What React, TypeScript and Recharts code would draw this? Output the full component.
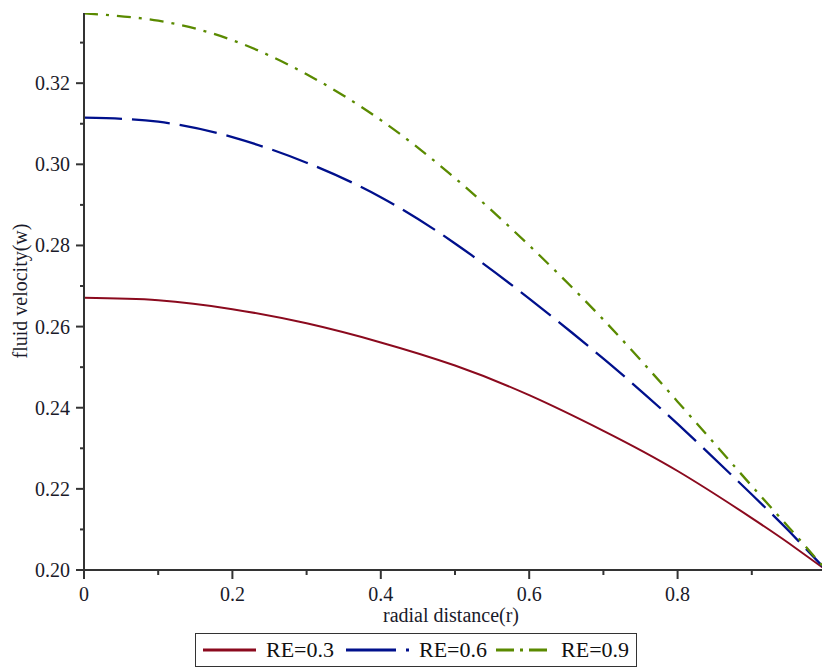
import React from 'react';
import { LineChart, Line, XAxis, YAxis, Legend } from 'recharts';

const rValues = [0, 0.1, 0.2, 0.3, 0.4, 0.5, 0.6, 0.7, 0.8, 0.9, 0.95, 1];
const re03 = [0.2671, 0.2665, 0.2643, 0.2608, 0.2561, 0.2504, 0.2431, 0.2343, 0.2244, 0.2128, 0.2066, 0.2];
const re06 = [0.3115, 0.3105, 0.3067, 0.3004, 0.2919, 0.2805, 0.2669, 0.2521, 0.236, 0.2186, 0.2096, 0.2];
const re09 = [0.3372, 0.3354, 0.3306, 0.3222, 0.3109, 0.2966, 0.28, 0.2617, 0.2415, 0.2207, 0.2105, 0.2];

const seriesNames = ['RE=0.3', 'RE=0.6', 'RE=0.9'];

const xTicks = [0, 0.1, 0.2, 0.3, 0.4, 0.5, 0.6, 0.7, 0.8, 0.9, 1];
const xMajor = [0, 0.2, 0.4, 0.6, 0.8, 1];
const xTickLabels = ['0', '0.2', '0.4', '0.6', '0.8', '1'];

const yTicks = [0.2, 0.21, 0.22, 0.23, 0.24, 0.25, 0.26, 0.27, 0.28, 0.29, 0.3, 0.31, 0.32, 0.33];
const yMajor = [0.2, 0.22, 0.24, 0.26, 0.28, 0.3, 0.32];
const yTickLabels = ['0.20', '0.22', '0.24', '0.26', '0.28', '0.30', '0.32'];

const data = rValues.map((r, i) => ({ r, a: re03[i], b: re06[i], c: re09[i] }));

const FONT = "'Liberation Serif', 'Times New Roman', serif";
const TEXT = '#1a1a2a';
const AXIS = '#333333';
const RED = '#8b0a1e';
const BLUE = '#00108c';
const GREEN = '#5a8a00';

const findIdx = (arr: number[], v: number) => arr.findIndex((m) => Math.abs(m - v) < 1e-6);

const XTick = (props: any) => {
  const { x, y, payload } = props;
  const idx = findIdx(xMajor, payload.value);
  const major = idx >= 0;
  return (
    <g>
      <line x1={x} y1={y} x2={x} y2={y + (major ? 9 : 5)} stroke={AXIS} strokeWidth={2} />
      {major && (
        <text x={x} y={y + 31} textAnchor="middle" fontFamily={FONT} fontSize={20} fill={TEXT}>
          {xTickLabels[idx]}
        </text>
      )}
    </g>
  );
};

const YTick = (props: any) => {
  const { x, y, payload } = props;
  const idx = findIdx(yMajor, payload.value);
  const major = idx >= 0;
  return (
    <g>
      <line x1={x} y1={y} x2={x - (major ? 8 : 4)} y2={y} stroke={AXIS} strokeWidth={2} />
      {major && (
        <text x={x - 14} y={y} dy="0.35em" textAnchor="end" fontFamily={FONT} fontSize={20} fill={TEXT}>
          {yTickLabels[idx]}
        </text>
      )}
    </g>
  );
};

const XLabel = (props: any) => {
  const { viewBox } = props;
  return (
    <text x={451} y={viewBox.y + 52} textAnchor="middle" fontFamily={FONT} fontSize={20} fill={TEXT}>
      radial distance(r)
    </text>
  );
};

const YLabel = () => (
  <text
    x={20}
    y={291}
    transform="rotate(-90 20 291)"
    textAnchor="middle"
    dominantBaseline="central"
    fontFamily={FONT}
    fontSize={20}
    fill={TEXT}
  >
    fluid velocity(w)
  </text>
);

const LegendContent = () => (
  <div style={{ display: 'flex', justifyContent: 'center', paddingLeft: 6 }}>
    <div
      style={{
        border: '1.5px solid #333',
        display: 'flex',
        alignItems: 'center',
        height: 32,
        padding: '0 7px',
        fontFamily: FONT,
        fontSize: 22,
        color: '#111',
        background: '#fff',
      }}
    >
      <svg width={53} height={10}>
        <line x1={0} y1={5} x2={53} y2={5} stroke={RED} strokeWidth={3} />
      </svg>
      <span style={{ marginLeft: 10, marginRight: 12 }}>{seriesNames[0]}</span>
      <svg width={63} height={10}>
        <line x1={0} y1={5} x2={63} y2={5} stroke={BLUE} strokeWidth={3} strokeDasharray="50 10 3 100" />
      </svg>
      <span style={{ marginLeft: 10, marginRight: 9 }}>{seriesNames[1]}</span>
      <svg width={51} height={10}>
        <line x1={0} y1={5} x2={51} y2={5} stroke={GREEN} strokeWidth={3} strokeDasharray="18 6 3 6 18" />
      </svg>
      <span style={{ marginLeft: 14 }}>{seriesNames[2]}</span>
    </div>
  </div>
);

export default function App() {
  return (
    <div style={{ position: 'absolute', left: 0, top: 0, width: 822, height: 670, overflow: 'hidden', background: '#fff' }}>
      <LineChart width={830} height={670} data={data} margin={{ top: 13, right: 4, bottom: 3, left: 0 }}>
        <XAxis
          dataKey="r"
          type="number"
          domain={[0, 1]}
          ticks={xTicks}
          interval={0}
          tickSize={0}
          tickMargin={0}
          tickLine={false}
          tick={<XTick />}
          axisLine={{ stroke: AXIS, strokeWidth: 2 }}
          height={63}
          label={<XLabel />}
          allowDataOverflow
        />
        <YAxis
          type="number"
          domain={[0.2, 0.3373]}
          ticks={yTicks}
          interval={0}
          tickSize={0}
          tickMargin={0}
          tickLine={false}
          tick={<YTick />}
          axisLine={{ stroke: AXIS, strokeWidth: 2 }}
          width={84}
          label={<YLabel />}
          allowDataOverflow
        />
        <Legend verticalAlign="bottom" content={<LegendContent />} />
        <Line type="natural" dataKey="a" name={seriesNames[0]} stroke={RED} strokeWidth={2} dot={false} isAnimationActive={false} />
        <Line type="natural" dataKey="b" name={seriesNames[1]} stroke={BLUE} strokeWidth={2.3} strokeDasharray="38 10" dot={false} isAnimationActive={false} />
        <Line type="natural" dataKey="c" name={seriesNames[2]} stroke={GREEN} strokeWidth={2.3} strokeDasharray="14 8 3 8" dot={false} isAnimationActive={false} />
      </LineChart>
    </div>
  );
}
